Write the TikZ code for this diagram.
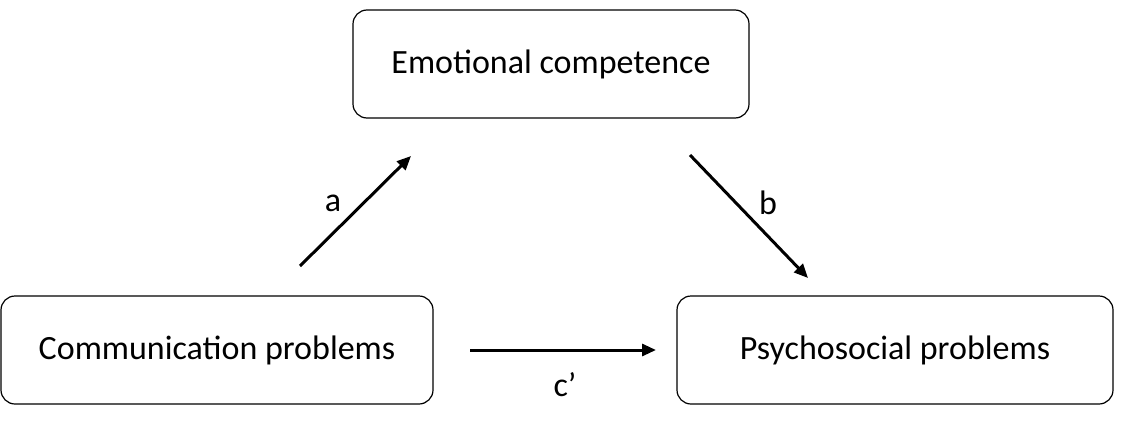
\documentclass[tikz,border=0pt]{standalone}
\usepackage{fontspec}
\setmainfont{Carlito}
\usetikzlibrary{arrows.meta}
\begin{document}
\begin{tikzpicture}[x=1pt,y=-1pt,
  box/.style={draw,line width=1.2pt,rounded corners=14pt,inner sep=0pt,minimum height=108pt,font=\fontsize{34}{40}\selectfont},
  arr/.style={line width=3pt,-{Triangle[length=14pt,width=12pt]}},
  lab/.style={font=\fontsize{34}{40}\selectfont}]
\useasboundingbox (0,0) rectangle (1123,447);
\node[box,minimum width=396pt] (emo) at (551,64) {Emotional competence};
\node[box,minimum width=432pt] (com) at (217,350) {Communication problems};
\node[box,minimum width=436pt] (psy) at (895,350) {Psychosocial problems};
\coordinate (a1) at (300,266); \coordinate (a2) at (411,156);
\coordinate (b1) at (690,155); \coordinate (b2) at (808,278);
\coordinate (c1) at (470,350); \coordinate (c2) at (656,350);
\draw[arr] (a1) -- (a2);
\draw[arr] (b1) -- (b2);
\draw[arr] (c1) -- (c2);
\node[lab] (la) at (333,203) {a};
\node[lab] (lb) at (768,203) {b};
\node[lab] (lc) at (565,385) {c’};
\end{tikzpicture}
\end{document}
